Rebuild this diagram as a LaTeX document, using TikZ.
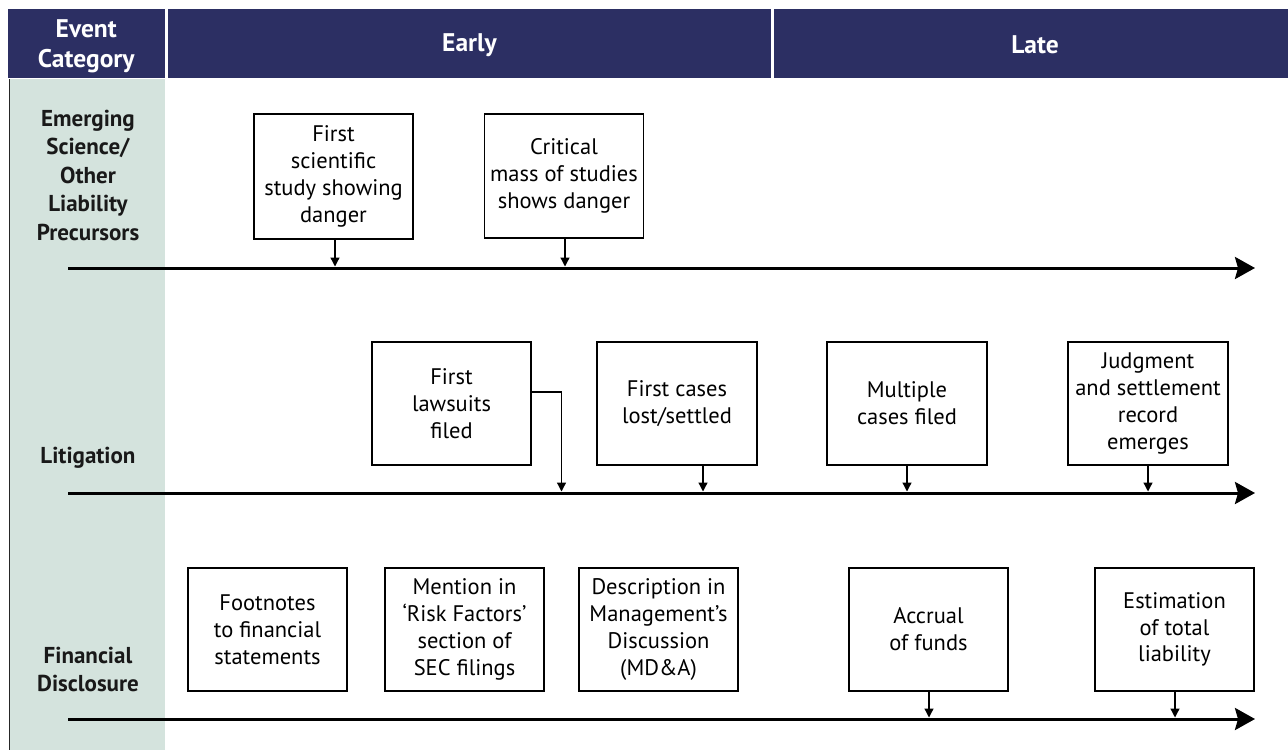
\documentclass[tikz,border=0pt]{standalone}
\usepackage{fontspec}
\setmainfont{PT Sans}
\usetikzlibrary{arrows.meta}
\definecolor{navy}{HTML}{2C2F63}
\definecolor{sage}{HTML}{D4E3DD}
\tikzset{
  evbox/.style={draw=black, line width=1.3pt, fill=white, minimum width=159pt, minimum height=124pt, inner sep=0pt, align=center, font=\fontsize{22.5}{26.8}\selectfont},
  hdrbg/.style={fill=navy, draw=none, inner sep=0pt},
  hdrtxt/.style={text=white, align=center, inner sep=0pt, font=\bfseries\fontsize{25.5}{30}\selectfont},
  cat/.style={align=center, font=\bfseries\fontsize{23}{28.5}\selectfont, text=black!90},
  tline/.style={line width=3pt, -{Stealth[width=22pt,length=20pt,inset=3pt]}},
  smallarr/.style={line width=1.3pt, -{Triangle[width=9pt,length=9pt]}, shorten >=1.5pt}
}
\begin{document}
\begin{tikzpicture}[x=1pt,y=-1pt]
\useasboundingbox (0,0) rectangle (1288,750);
% left column
\fill[sage] (9,79) rectangle (165,750);
\draw[line width=1pt, black!85] (9,79) -- (9,750);
% headers
\node[hdrbg, minimum width=156.5pt, minimum height=69pt] (hcat) at (86.25,43.5) {};
\node[hdrbg, minimum width=603pt, minimum height=69pt] (hearly) at (469.5,43.5) {};
\node[hdrbg, minimum width=514pt, minimum height=69pt] (hlate) at (1031,43.5) {};
\node[hdrtxt] (hcatt) at ([yshift=-2.5pt]hcat.center) {Event\\Category};
\node[hdrtxt] (hearlyt) at ([yshift=-2pt]hearly.center) {Early};
\node[hdrtxt] (hlatet) at ([xshift=4pt,yshift=-1pt]hlate.center) {Late};
% category labels
\node[cat] (c1) at (88,175) {Emerging\\Science/\\Other\\Liability\\Precursors};
\node[cat] (c2) at (88,458) {Litigation};
\node[cat] (c3) at (88,669.5) {Financial\\Disclosure};
% timelines
\coordinate (t1a) at (68,268); \coordinate (t1b) at (1255,268);
\coordinate (t2a) at (68,493); \coordinate (t2b) at (1255,493);
\coordinate (t3a) at (68,719); \coordinate (t3b) at (1255,719);
\draw[tline] (t1a) -- (t1b);
\draw[tline] (t2a) -- (t2b);
\draw[tline] (t3a) -- (t3b);
% boxes row 1
\node[evbox, minimum height=125pt] (b1) at (333.5,176.5) {First\\scientific\\study showing\\danger};
\node[evbox] (b2) at (564,176) {Critical\\mass of studies\\shows danger};
% row 2
\node[evbox, minimum height=123pt] (b3) at (451.5,403.5) {First\\lawsuits\\filed};
\node[evbox, minimum width=160pt, minimum height=123pt] (b4) at (677,403.5) {First cases\\lost/settled};
\node[evbox, minimum width=160pt, minimum height=123pt] (b5) at (907,403.5) {Multiple\\cases filed};
\node[evbox, minimum width=160pt, minimum height=123pt] (b6) at (1148,403.5) {Judgment\\and settlement\\record\\emerges};
% row 3
\node[evbox, minimum height=123pt] (b7) at (267.5,629.5) {Footnotes\\to financial\\statements};
\node[evbox, minimum height=123pt] (b8) at (464.5,629.5) {Mention in\\`Risk Factors'\\section of\\SEC filings};
\node[evbox, minimum height=123pt] (b9) at (658.5,629.5) {Description in\\Management's\\Discussion\\(MD\&A)};
\node[evbox, minimum height=123pt] (b10) at (928.5,629.5) {Accrual\\of funds};
\node[evbox, minimum height=123pt] (b11) at (1174.5,629.5) {Estimation\\of total\\liability};
% small arrows
\draw[smallarr] ([xshift=1.5pt]b1.south) -- ([xshift=1.5pt]b1.south |- t1a);
\draw[smallarr] ([xshift=1pt]b2.south) -- ([xshift=1pt]b2.south |- t1a);
\draw[smallarr] ([yshift=11.5pt]b3.east) -| ([xshift=110pt]b3.south |- t2a);
\draw[smallarr] ([xshift=26pt]b4.south) -- ([xshift=26pt]b4.south |- t2a);
\draw[smallarr] (b5.south) -- (b5.south |- t2a);
\draw[smallarr] (b6.south) -- (b6.south |- t2a);
\draw[smallarr] ([xshift=0.5pt]b10.south) -- ([xshift=0.5pt]b10.south |- t3a);
\draw[smallarr] ([xshift=0.5pt]b11.south) -- ([xshift=0.5pt]b11.south |- t3a);
\end{tikzpicture}
\end{document}
